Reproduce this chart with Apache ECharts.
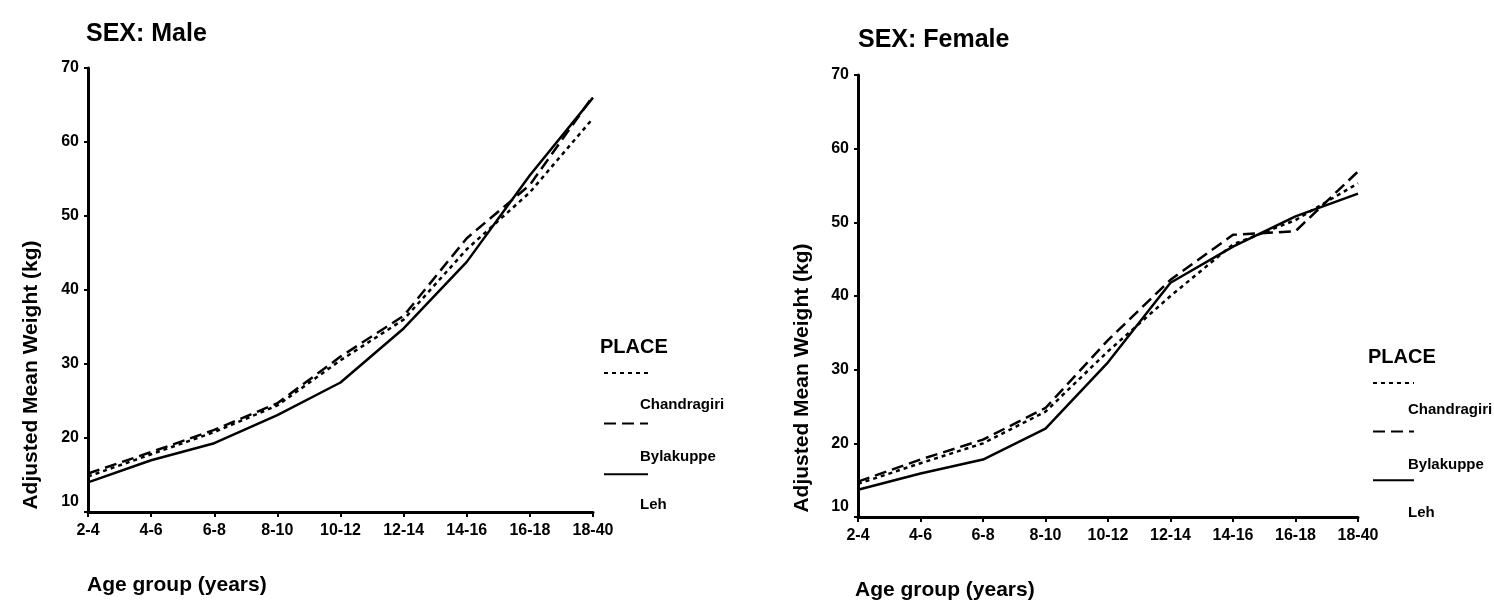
<!DOCTYPE html>
<html>
<head>
<meta charset="utf-8">
<script src="https://cdn.jsdelivr.net/npm/echarts@6/dist/echarts.min.js"></script>
<style>html,body{margin:0;padding:0;background:#fff;}#chart{width:1494px;height:600px;}</style>
</head>
<body>
<div id="chart"></div>
<script>
const categories = ['2-4', '4-6', '6-8', '8-10', '10-12', '12-14', '14-16', '16-18', '18-40'];
const places = ['Chandragiri', 'Bylakuppe', 'Leh'];
const maleChandragiri = [14.8, 17.8, 20.8, 24.4, 30.5, 36.0, 45.5, 53.2, 63.2];
const maleBylakuppe   = [15.2, 18.1, 21.1, 24.7, 31.0, 36.5, 47.0, 54.2, 66.2];
const maleLeh         = [14.0, 17.0, 19.3, 23.1, 27.5, 34.8, 43.8, 55.5, 66.0];
const femaleChandragiri = [14.5, 17.3, 20.0, 24.3, 32.5, 40.0, 47.0, 50.3, 55.3];
const femaleBylakuppe   = [14.8, 17.8, 20.5, 24.8, 34.0, 42.2, 48.3, 48.8, 56.9];
const femaleLeh         = [13.7, 15.9, 17.8, 22.0, 31.0, 41.8, 46.7, 50.8, 53.9];
const yMin = 10, yMax = 70, yStep = 10;
const panelTitles = ['SEX: Male', 'SEX: Female'];
const xName = 'Age group (years)';
const yName = 'Adjusted Mean Weight (kg)';
const legendTitle = 'PLACE';

const FONT = '"Liberation Sans", Arial, sans-serif';
const dashes = { Chandragiri: [4, 4], Bylakuppe: [12, 6], Leh: 'solid' };

function xAxis(gi) {
  return {
    type: 'category', gridIndex: gi, data: categories, boundaryGap: false,
    axisLine: { lineStyle: { color: '#000', width: 3 } },
    axisTick: { show: true, length: 5, lineStyle: { color: '#000', width: 2 } },
    axisLabel: { color: '#000', fontFamily: FONT, fontWeight: 'bold', fontSize: 16, margin: 11 },
    splitLine: { show: false }
  };
}
function yAxis(gi) {
  return {
    type: 'value', gridIndex: gi, min: yMin, max: yMax, interval: yStep,
    axisLine: { show: true, lineStyle: { color: '#000', width: 3 } },
    axisTick: { show: true, length: 4, lineStyle: { color: '#000', width: 2 } },
    axisLabel: {
      color: '#000', fontFamily: FONT, fontWeight: 'bold', fontSize: 16, margin: 9,
      formatter: v => v === yMin ? '{lo|' + v + '}' : String(v),
      rich: { lo: { padding: [0, 0, 20, 0], fontFamily: FONT, fontWeight: 'bold', fontSize: 16, color: '#000' } }
    },
    splitLine: { show: false }
  };
}
function series(name, data, gi) {
  return {
    name, type: 'line', data, xAxisIndex: gi, yAxisIndex: gi,
    symbol: 'none', color: '#000',
    lineStyle: { color: '#000', width: 2.5, type: dashes[name] },
    emphasis: { disabled: true }
  };
}
function legend(left, top, w, gap) {
  return {
    data: places, orient: 'vertical', left, top, padding: 0,
    itemWidth: w, itemHeight: 14, itemGap: gap,
    selectedMode: false, formatter: () => '',
    itemStyle: { opacity: 0 },
    textStyle: { fontSize: 1 }
  };
}
function txt(x, y, text, size, opts) {
  return Object.assign({
    type: 'text', x, y,
    style: { text, font: 'bold ' + size + 'px ' + FONT, fill: '#000', textAlign: 'left', textVerticalAlign: 'middle' }
  }, opts || {});
}

const option = {
  backgroundColor: '#fff',
  animation: false,
  grid: [
    { left: 88, top: 68, width: 505, height: 444 },
    { left: 858, top: 75, width: 500, height: 442 }
  ],
  xAxis: [xAxis(0), xAxis(1)],
  yAxis: [yAxis(0), yAxis(1)],
  legend: [legend(603, 366, 44, 38), legend(1372, 376, 41, 36)],
  series: [
    series('Chandragiri', maleChandragiri, 0),
    series('Bylakuppe', maleBylakuppe, 0),
    series('Leh', maleLeh, 0),
    series('Chandragiri', femaleChandragiri, 1),
    series('Bylakuppe', femaleBylakuppe, 1),
    series('Leh', femaleLeh, 1)
  ],
  graphic: [
    txt(86, 34, panelTitles[0], 25),
    txt(858, 40, panelTitles[1], 25),
    txt(600, 347, legendTitle, 20),
    txt(1368, 357, legendTitle, 20),
    txt(640, 405, places[0], 15),
    txt(640, 457, places[1], 15),
    txt(640, 505, places[2], 15),
    txt(1408, 410, places[0], 15),
    txt(1408, 465, places[1], 15),
    txt(1408, 513, places[2], 15),
    txt(87, 585, xName, 21),
    txt(855, 590, xName, 21),
    { type: 'text', x: 31, y: 375, rotation: Math.PI / 2,
      style: { text: yName, font: 'bold 21px ' + FONT, fill: '#000', textAlign: 'center', textVerticalAlign: 'middle' } },
    { type: 'text', x: 802, y: 378, rotation: Math.PI / 2,
      style: { text: yName, font: 'bold 21px ' + FONT, fill: '#000', textAlign: 'center', textVerticalAlign: 'middle' } }
  ]
};
const chart = echarts.init(document.getElementById('chart'), null, { renderer: 'canvas' });
chart.setOption(option);
</script>
</body>
</html>
